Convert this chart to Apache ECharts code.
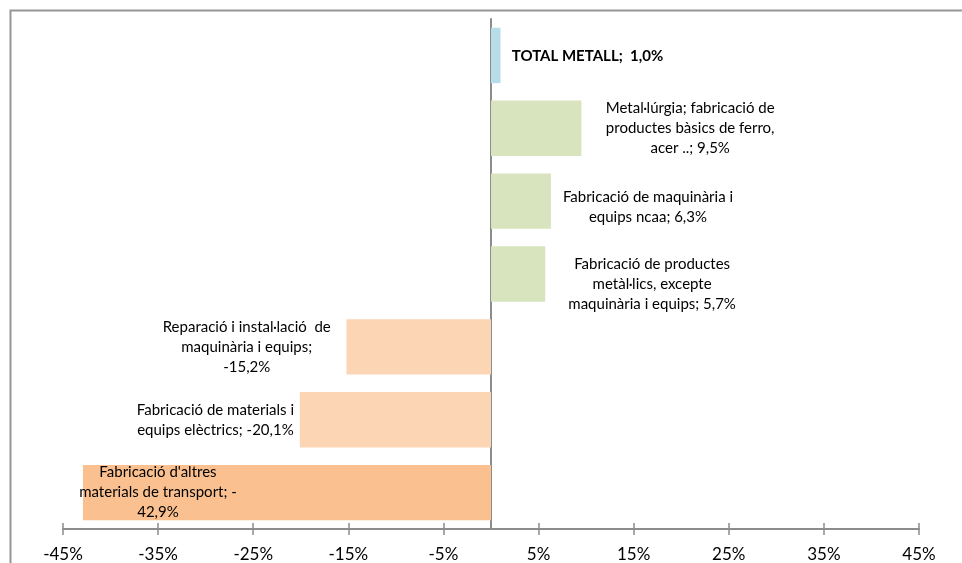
<!DOCTYPE html>
<html>
<head>
<meta charset="utf-8">
<script src="https://cdn.jsdelivr.net/npm/echarts@6/dist/echarts.min.js"></script>
<style>
  html, body { margin: 0; padding: 0; background: #fff; }
  #chart { width: 962px; height: 563px; }
</style>
</head>
<body>
<div id="chart"></div>
<script>
// dades (de dalt a baix)
const categories = [
  "TOTAL METALL",
  "Metal·lúrgia; fabricació de\nproductes bàsics de ferro,\nacer ..",
  "Fabricació de maquinària i\nequips ncaa",
  "Fabricació de productes\nmetàl·lics, excepte\nmaquinària i equips",
  "Reparació i instal·lació  de\nmaquinària i equips;\n",
  "Fabricació de materials i\nequips elèctrics",
  "Fabricació d'altres\nmaterials de transport; -\n"
];
const values = [1.0, 9.5, 6.3, 5.7, -15.2, -20.1, -42.9];
const barColors = ["#b7dde8", "#d7e4bd", "#d7e4bd", "#d7e4bd", "#fcd5b5", "#fcd5b5", "#fac090"];
const tickLabels = ["-45%", "-35%", "-25%", "-15%", "-5%", "5%", "15%", "25%", "35%", "45%"];

const fmt = (v) => v.toFixed(1).replace(".", ",");

// label texts, same wording as the original
const labelTexts = [
  "TOTAL METALL;  " + fmt(values[0]) + "%",
  categories[1] + "; " + fmt(values[1]) + "%",
  categories[2] + "; " + fmt(values[2]) + "%",
  categories[3] + "; " + fmt(values[3]) + "%",
  categories[4] + fmt(values[4]) + "%",
  categories[5] + "; " + fmt(values[5]) + "%",
  categories[6] + fmt(-values[6]) + "%"
];

// desplaçament de cada etiqueta respecte al centre de la barra
const labelOffsets = [[16, 1], [154, 0], [127, 6], [134, 10], [-172, 0], [-180, 0], [-129, 0]];

const chart = echarts.init(document.getElementById("chart"));

const data = values.map((v, i) => ({
  value: v,
  itemStyle: { color: barColors[i] },
  label: {
    show: true,
    position: "inside",
    align: i === 0 ? "left" : "center",
    offset: labelOffsets[i],
    formatter: labelTexts[i],
    fontWeight: i === 0 ? "bold" : "normal",
  },
}));

const option = {
  animation: false,
  textStyle: { fontFamily: "Lato" },
  grid: { left: 63, right: 43, top: 19, bottom: 33 },
  xAxis: [
    {
      // ticks que creuen la línia + etiquetes
      type: "value",
      min: -45,
      max: 45,
      interval: 10,
      offset: -6,
      splitLine: { show: false },
      axisLine: { show: false },
      axisTick: { show: true, length: 12, lineStyle: { color: "#8c8c8c", width: 1.5 } },
      axisLabel: {
        color: "#000",
        fontSize: 17,
        margin: 23,
        formatter: (v) => {
          const i = Math.round((v + 45) / 10);
          return tickLabels[i] || "";
        },
      },
    },
    {
      // línia de l'eix
      type: "value",
      position: "bottom",
      min: -45,
      max: 45,
      interval: 10,
      splitLine: { show: false },
      axisLine: { show: true, lineStyle: { color: "#8c8c8c", width: 2 } },
      axisTick: { show: false },
      axisLabel: { show: false },
    },
  ],
  yAxis: {
    type: "category",
    inverse: true,
    data: categories,
    axisLine: { show: true, onZero: true, lineStyle: { color: "#8c8c8c", width: 2 } },
    axisTick: { show: false },
    axisLabel: { show: false },
  },
  graphic: [
    {
      type: "rect",
      silent: true,
      shape: { x: 10.5, y: 10.5, width: 1000, height: 600 },
      style: { fill: "none", stroke: "#969696", lineWidth: 2 },
      z: -1,
    },
  ],
  series: [
    {
      type: "bar",
      data: data,
      barWidth: "76%",
      label: {
        color: "#000",
        fontSize: 15,
        lineHeight: 20,
      },
    },
  ],
};

chart.setOption(option);
</script>
</body>
</html>
